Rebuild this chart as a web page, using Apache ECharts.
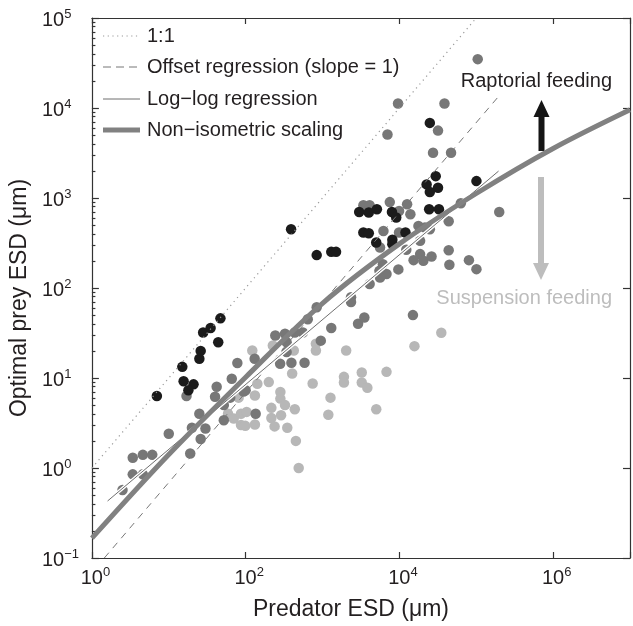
<!DOCTYPE html>
<html><head><meta charset="utf-8">
<script src="https://cdn.jsdelivr.net/npm/echarts@6/dist/echarts.min.js"></script>
<style>html,body{margin:0;padding:0;background:#fff}#c{width:633px;height:626px}</style>
</head><body><div id="c"></div>
<script>
// ---- data (predator ESD, optimal prey ESD), in µm ----
const raptorial = [
  [7.0,6.3],[15,13.3],[15.6,9.2],[21,8.5],[18,7.3],[25,16.4],[26,20],[28,32],[35,36],[47,46],[44,25],
  [390,450],[840,232],[1300,252],[1500,252],[3000,700],[4000,690],[5100,750],[3400,414],[4000,406],
  [5000,320],[8000,700],[8100,343],[8100,307],[9100,606],[24400,750],[32700,750],[12000,414],
  [24900,6830],[29700,1750],[22600,1417],[31800,1300],[24900,1164],[100600,1540]
];
const intermediate = [
  [78,14.7],[66,9.8],[42,8.0],[17,6.3],[40,6.2],[63,6.05],[94,7.06],[100,7.3],[52,5.0],[25,4.0],
  [52,3.4],[30,2.75],[20,2.8],[10,2.4],[26,2.1],[19,1.45],[3.4,1.3],[4.6,1.4],[6.1,1.4],[3.4,0.85],
  [4.6,0.85],[2.5,0.57],
  [281,14.4],[394,14.8],[584,14.8],[135,4.0],[643,45],[555,32],[436,32],[325,31],[243,29.6],[341,25],
  [341,19.4],[131,16.4],[950,26],[1300,36],[2900,40],[3400,830],[4100,830],[7500,900],[6200,430],
  [5600,282],[6100,184],[6800,143],[5500,155],[5600,131],[4100,111],[2350,79],[2350,70],[840,61],[3500,47],
  [12600,851],[13900,660],[9900,717],[9900,414],[17700,490],[21500,470],[24900,450],[43800,552],
  [199000,700],[18600,334],[43800,263],[12300,266],[18600,238],[15300,204],[20500,201],[26200,224],
  [44700,181],[80300,204],[100600,162],[9700,161],[15000,50],
  [104500,34900],[9600,11200],[38600,11200],[7000,5070],[31800,5610],[27400,3180],[47000,3180],[63000,873]
];
const suspension = [
  [81,6.05],[59,4.0],[70,3.55],[87,4.0],[87,3.0],[403,11.2],[200,9.0],[744,8.7],[1900,10.3],[1900,8.9],
  [3240,11.5],[6800,11.7],[3240,8.9],[3830,7.8],[1270,6.05],[5000,4.5],[1190,3.9],[283,7.0],[283,5.9],
  [325,5.0],[436,4.5],[216,4.66],[216,3.6],[289,3.85],[238,2.9],[348,2.8],[450,2.0],[490,1.0],[103,4.2],
  [99,2.94],[132,3.04],[132,6.4],[142,8.65],[122,20.2],[226,23],[423,20.2],[820,24],[820,20.2],
  [2030,20.2],[35100,31.8],[15700,22.6]
];
// fitted lines
const oneToOneX = [1, 100000];
const oneToOneY = [1, 100000];
const offsetX = [1.45, 193000];
const offsetY = [0.1, 13300];
const logLogX = [1.6, 195000];
const logLogY = [0.43, 1990];
const nonIsoX = [1, 10, 100, 1000, 10000, 100000, 1000000, 10000000];
const nonIsoY = [0.166, 1.41, 10.2, 67.6, 309, 1122, 3548, 9550];
// tick labels (exponents of 10)
const xTickExps = ['0', '2', '4', '6'];
const yTickExps = ['\u22121', '0', '1', '2', '3', '4', '5'];
const legendNames = ['1:1', 'Offset regression (slope = 1)', 'Log\u2212log regression', 'Non\u2212isometric scaling'];

const FONT = '"Liberation Sans", Arial, Helvetica, sans-serif';
const TXT = '#231f20';
const lg = v => Math.log10(v);
const pts = arr => arr.map(p => [lg(p[0]), lg(p[1])]);
const pairs = (xs, ys) => xs.map((x, i) => [lg(x), lg(ys[i])]);

const minorTicks = [];
for (let n = -1; n < 5; n++) for (let k = 2; k < 10; k++) minorTicks.push(lg(k * Math.pow(10, n)));

const axisLineStyle = { color: '#333', width: 1.2 };
const rich = {
  sp: { width: 7 },
  b: { fontSize: 20, lineHeight: 24, fontFamily: FONT, color: TXT },
  s: { fontSize: 13, lineHeight: 12, verticalAlign: 'top', fontFamily: FONT, color: TXT }
};

const chart = echarts.init(document.getElementById('c'), null, { renderer: 'canvas' });
chart.setOption({
  animation: false,
  backgroundColor: '#fff',
  grid: { left: 89, right: -7, top: 18, bottom: 66, containLabel: false },
  xAxis: [
    { type: 'value', min: 0, max: 7, interval: 2, position: 'bottom',
      axisLine: { show: true, onZero: false, lineStyle: axisLineStyle },
      axisTick: { show: true, inside: true, length: 6, lineStyle: axisLineStyle },
      axisLabel: { margin: 8, rich: rich,
        formatter: v => { const i = v / 2; return (Number.isInteger(i) && xTickExps[i] !== undefined) ? '{sp| }{b|10}{s|' + xTickExps[i] + '}' : ''; } },
      splitLine: { show: false },
      name: 'Predator ESD (\u03bcm)', nameLocation: 'middle', nameGap: 40,
      nameTextStyle: { fontSize: 23, fontFamily: FONT, color: TXT, padding: [0, 20, 0, 0] } },
    { type: 'value', min: 0, max: 7, interval: 2, position: 'top',
      axisLine: { show: true, onZero: false, lineStyle: axisLineStyle },
      axisTick: { show: true, inside: true, length: 6, lineStyle: axisLineStyle },
      axisLabel: { show: false }, splitLine: { show: false } }
  ],
  yAxis: [
    { type: 'value', min: -1, max: 5, interval: 1, position: 'left',
      axisLine: { show: true, onZero: false, lineStyle: axisLineStyle },
      axisTick: { show: true, inside: true, length: 7, lineStyle: axisLineStyle },
      axisLabel: { margin: 50, align: 'left', rich: rich, padding: [4, 0, 0, 0],
        formatter: v => { const s = yTickExps[Math.round(v) + 1]; return s === undefined ? '' : '{b|10}{s|' + s + '}'; } },
      splitLine: { show: false },
      name: 'Optimal prey ESD (\u03bcm)', nameLocation: 'middle', nameGap: 52, nameRotate: 90,
      nameTextStyle: { fontSize: 23, fontFamily: FONT, color: TXT, padding: [0, 20, 0, 0] } },
    { type: 'value', min: -1, max: 5, position: 'left',
      axisLine: { show: false, onZero: false },
      axisTick: { show: true, inside: true, length: 3.5, customValues: minorTicks, lineStyle: axisLineStyle },
      axisLabel: { show: false }, splitLine: { show: false } },
    { type: 'value', min: -1, max: 5, interval: 1, position: 'right',
      axisLine: { show: true, onZero: false, lineStyle: axisLineStyle },
      axisTick: { show: true, inside: true, length: 7, lineStyle: axisLineStyle },
      axisLabel: { show: false }, splitLine: { show: false } }
  ],
  series: [
    { name: 'Suspension', type: 'scatter', data: pts(suspension), symbolSize: 10.5,
      itemStyle: { color: '#b7b7b7', opacity: 1 }, z: 2 },
    { name: 'Intermediate', type: 'scatter', data: pts(intermediate), symbolSize: 10.5,
      itemStyle: { color: '#777777', opacity: 1 }, z: 2 },
    { name: 'Raptorial', type: 'scatter', data: pts(raptorial), symbolSize: 10.5,
      itemStyle: { color: '#1b1b1b', opacity: 1 }, z: 2 },
    { name: legendNames[0], type: 'line', data: pairs(oneToOneX, oneToOneY), symbol: 'none', z: 3,
      lineStyle: { color: '#9a9a9a', width: 1.2, type: [1.2, 4] } },
    { name: legendNames[1], type: 'line', data: pairs(offsetX, offsetY), symbol: 'none', z: 3,
      lineStyle: { color: '#777', width: 1, type: [7, 6] } },
    { name: 'casing', type: 'line', data: pairs(logLogX, logLogY), symbol: 'none', z: 4,
      lineStyle: { color: '#fff', width: 3.5 } },
    { name: legendNames[2], type: 'line', data: pairs(logLogX, logLogY), symbol: 'none', z: 4,
      lineStyle: { color: '#6f6f6f', width: 1 } },
    { name: legendNames[3], type: 'line', data: pairs(nonIsoX, nonIsoY), symbol: 'none', z: 5,
      smooth: 0.35, lineStyle: { color: '#818181', width: 5 } }
  ],
  graphic: [
    { type: 'line', shape: { x1: 103, y1: 36, x2: 140, y2: 36 }, style: { stroke: '#9a9a9a', lineWidth: 1.2, lineDash: [1.2, 3.5] } },
    { type: 'line', shape: { x1: 103, y1: 67, x2: 140, y2: 67 }, style: { stroke: '#777', lineWidth: 1, lineDash: [8, 5] } },
    { type: 'line', shape: { x1: 103, y1: 99, x2: 140, y2: 99 }, style: { stroke: '#6f6f6f', lineWidth: 1 } },
    { type: 'line', shape: { x1: 103, y1: 130, x2: 140, y2: 130 }, style: { stroke: '#818181', lineWidth: 5 } },
    { type: 'text', x: 147, y: 36, style: { text: legendNames[0], fontSize: 20, fontFamily: FONT, fill: TXT, verticalAlign: 'middle' } },
    { type: 'text', x: 147, y: 67, style: { text: legendNames[1], fontSize: 20, fontFamily: FONT, fill: TXT, verticalAlign: 'middle' } },
    { type: 'text', x: 147, y: 99, style: { text: legendNames[2], fontSize: 20, fontFamily: FONT, fill: TXT, verticalAlign: 'middle' } },
    { type: 'text', x: 147, y: 130, style: { text: legendNames[3], fontSize: 20, fontFamily: FONT, fill: TXT, verticalAlign: 'middle' } },
    { type: 'text', x: 612, y: 81, style: { text: 'Raptorial feeding', fontSize: 20, fontFamily: FONT, fill: TXT, align: 'right', verticalAlign: 'middle' } },
    { type: 'text', x: 612, y: 298, style: { text: 'Suspension feeding', fontSize: 20, fontFamily: FONT, fill: '#bdbdbd', align: 'right', verticalAlign: 'middle' } },
    { type: 'polygon', shape: { points: [[538.5, 151], [544.5, 151], [544.5, 117], [549.5, 117], [541.5, 100], [533.5, 117], [538.5, 117]] }, style: { fill: '#151515' } },
    { type: 'polygon', shape: { points: [[538, 177], [544, 177], [544, 263], [549, 263], [541, 280], [533, 263], [538, 263]] }, style: { fill: '#bdbdbd' } }
  ]
});
</script></body></html>
